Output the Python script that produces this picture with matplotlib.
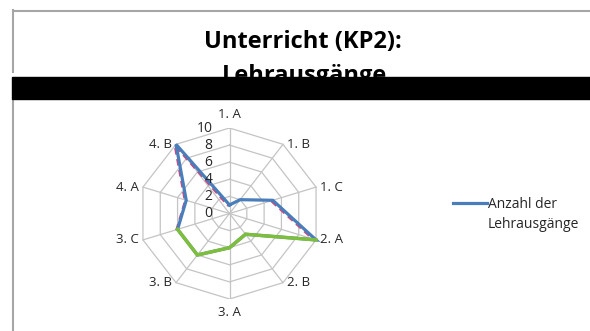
import numpy as np
import matplotlib.pyplot as plt
import matplotlib.transforms as mtransforms
from matplotlib.lines import Line2D
from matplotlib.patches import Rectangle

plt.rcParams['font.family'] = ['Open Sans', 'DejaVu Sans']

# Daten: Lehrausgänge je Klasse
categories = ["1. A", "1. B", "1. C", "2. A", "2. B", "3. A", "3. B", "3. C", "4. A", "4. B"]
lehrausgaenge = [1, 2, 5, 10, 3, 4, 6, 6, 5, 10]
ring_values = [0, 2, 4, 6, 8, 10]
series_name = "Anzahl der Lehrausgänge"
title_lines = ["Unterricht (KP2):", "Lehrausgänge"]

BLUE = "#4A7EBB"
GREEN = "#7DBE3C"
PINK = "#D2457E"
GRID = "#C4C4C4"
TEXT = "#262626"

W, H = 590, 331
fig = plt.figure(figsize=(W / 100, H / 100), dpi=100)

# Rahmen / Titel in Pixelkoordinaten
deko = fig.add_axes([0, 0, 1, 1])
deko.set_xlim(0, W)
deko.set_ylim(H, 0)
deko.axis("off")
deko.plot([13, W], [10.5, 10.5], color="#A6A6A6", lw=1.5)
deko.plot([13, 13], [10, 72], color="#A6A6A6", lw=1.5)
deko.plot([13, 13], [100, H], color="#A6A6A6", lw=1.5)
deko.text(303, 48, title_lines[0], ha="center", va="baseline",
          fontsize=17, fontweight="bold", color="black")
deko.text(304, 82, title_lines[1], ha="center", va="baseline",
          fontsize=17, fontweight="bold", color="black")
deko.add_patch(Rectangle((12, 77), W - 12, 22, color="black", zorder=5))

# Netzdiagramm
cx, cy, rx, ry = 229.5, 213.5, 91, 85.5
ax = fig.add_axes([(cx - rx) / W, (H - cy - ry) / H, 2 * rx / W, 2 * ry / H])
ax.set_xlim(-10, 10)
ax.set_ylim(-10, 10)
ax.axis("off")

n = len(categories)
theta = np.arange(n) * 2 * np.pi / n
sx, sy = np.sin(theta), np.cos(theta)

# Gitter: Zehnecke + Speichen
for r in ring_values[1:]:
    ax.plot(np.append(r * sx, r * sx[0]), np.append(r * sy, r * sy[0]),
            color=GRID, lw=0.9, zorder=1)
for i in range(n):
    ax.plot([0, 10 * sx[i]], [0, 10 * sy[i]], color=GRID, lw=0.9, zorder=1)

vals = np.array(lehrausgaenge, dtype=float)
px = np.append(vals * sx, vals[0] * sx[0])
py = np.append(vals * sy, vals[0] * sy[0])

# leicht versetzter Schatten unter der Linie
shadow = mtransforms.offset_copy(ax.transData, fig=fig, x=-1.3, y=-1.0, units="dots")
for a, b in [(7, 10), (2, 3)]:
    ax.plot(px[a:b + 1], py[a:b + 1], color=PINK, lw=1.6, ls=(0, (3, 2)),
            transform=shadow, zorder=2)

serie, = ax.plot(px, py, color=BLUE, lw=2.3, zorder=3, solid_joinstyle="miter")
ax.plot(px[3:8], py[3:8], color=GREEN, lw=2.5, zorder=4)

# Achsenbeschriftung an der senkrechten Achse
for r in ring_values:
    ax.annotate(str(r), (0, r), xytext=(-12.2, 0), textcoords="offset points",
                ha="right", va="center", fontsize=10, color=TEXT)

# Kategorien
for i, lab in enumerate(categories):
    if np.isclose(sx[i], 0):
        off = (0, 9.4 if sy[i] > 0 else -9.4)
        ha = "center"
    elif sx[i] > 0:
        off = (3, 0)
        ha = "left"
    else:
        off = (-3, 0)
        ha = "right"
    ax.annotate(lab, (10 * sx[i], 10 * sy[i]), xytext=off, textcoords="offset points",
                ha=ha, va="center", fontsize=9.5, color=TEXT)

# Legende
zeile1, zeile2 = series_name.rsplit(" ", 1)
leer = Line2D([], [], color="none")
fig.legend([serie, leer], [zeile1, zeile2], loc="upper left",
           bbox_to_anchor=(453 / W, 1 - 197 / H), frameon=False,
           borderpad=0, borderaxespad=0, handlelength=2.45, handletextpad=0.05,
           labelspacing=0.35, fontsize=10, labelcolor=TEXT)

fig.savefig("out.png", dpi=100)
